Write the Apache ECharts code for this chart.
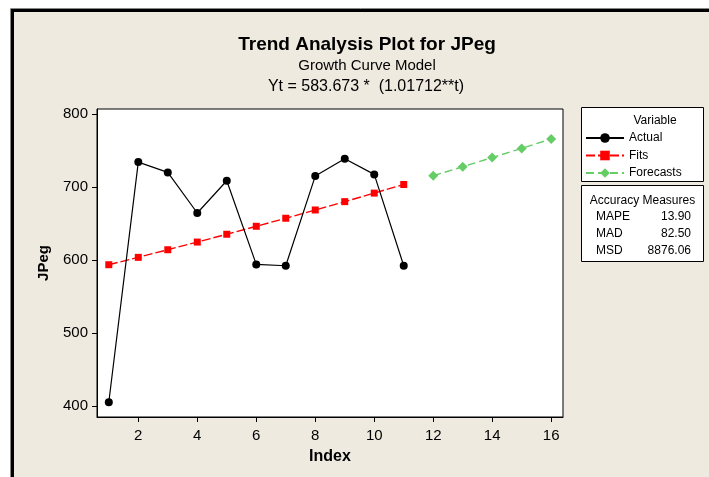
<!DOCTYPE html>
<html>
<head>
<meta charset="utf-8">
<script src="https://cdn.jsdelivr.net/npm/echarts@6/dist/echarts.min.js"></script>
<style>
html,body{margin:0;padding:0;background:#fff;}
#c{width:709px;height:477px;}
</style>
</head>
<body>
<div id="c"></div>
<script>
// ---- data ----
const actualIndex = [1,2,3,4,5,6,7,8,9,10,11];
const actualValues = [405.5,734.1,720.0,664.5,708.6,594.1,592.3,715.0,738.6,717.3,592.3];
const fitsValues = [593.7,603.8,614.2,624.7,635.4,646.3,657.3,668.6,680.0,691.7,703.5];
const forecastIndex = [12,13,14,15,16];
const forecastValues = [715.5,727.8,740.3,752.9,765.8];
const xTicks = [2,4,6,8,10,12,14,16];
const yTicks = [400,500,600,700,800];
const accuracyNames = ['MAPE','MAD','MSD'];
const accuracyValues = ['13.90','82.50','8876.06'];

const FONT = 'Liberation Sans, Arial, sans-serif';
const BG = '#EEEAE0';

const chart = echarts.init(document.getElementById('c'), null, {renderer:'canvas'});

const accTexts = [];
accuracyNames.forEach((n,i)=>{
  accTexts.push({type:'text', left:596, top:211 + i*16.7, z:100,
    style:{text:n, font:'12px '+FONT, fill:'#000'}});
  accTexts.push({type:'text', right:709-691, top:211 + i*16.7, z:100,
    style:{text:accuracyValues[i], font:'12px '+FONT, fill:'#000', textAlign:'right'}});
});

const option = {
  backgroundColor:'#fff',
  animation:false,
  textStyle:{fontFamily:FONT},
  grid:{left:97, top:109, right:146, bottom:60, show:true, backgroundColor:'#fff', borderColor:'#000', borderWidth:1, containLabel:false},
  xAxis:{
    type:'value', min:0.6, max:16.4,
    name:'Index', nameLocation:'middle', nameGap:32,
    nameTextStyle:{fontFamily:FONT, fontSize:16, fontWeight:'bold', color:'#000'},
    axisLine:{show:true, onZero:false, lineStyle:{color:'#000', width:1}},
    axisTick:{show:true, length:5, customValues:xTicks, lineStyle:{color:'#000'}},
    axisLabel:{customValues:xTicks, fontFamily:FONT, fontSize:15, color:'#000', margin:11},
    splitLine:{show:false}
  },
  yAxis:{
    type:'value', min:385.3, max:806.8,
    name:'JPeg', nameLocation:'middle', nameGap:46, nameRotate:90,
    nameTextStyle:{fontFamily:FONT, fontSize:15, fontWeight:'bold', color:'#000'},
    axisLine:{show:true, onZero:false, lineStyle:{color:'#000', width:1}},
    axisTick:{show:true, length:5, customValues:yTicks, lineStyle:{color:'#000'}},
    axisLabel:{customValues:yTicks, fontFamily:FONT, fontSize:15, color:'#000', margin:9},
    splitLine:{show:false}
  },
  legend:{
    orient:'vertical', left:585, top:131, padding:0, itemWidth:38, itemHeight:12, itemGap:3.5,
    textStyle:{fontFamily:FONT, fontSize:12, color:'#000', lineHeight:14},
    data:['Actual','Fits','Forecasts'], z:100
  },
  graphic:[
    {type:'rect', z:-10, silent:true, shape:{x:10.5, y:8.5, width:760, height:520}, style:{fill:'none', stroke:'#888', lineWidth:1}},
    {type:'rect', z:-9, silent:true, shape:{x:12.5, y:10.5, width:760, height:520}, style:{fill:BG, stroke:'#000', lineWidth:3}},
    {type:'text', x:367, y:45, z:100, style:{text:'Trend Analysis Plot for JPeg', font:'bold 19px '+FONT, fill:'#000', textAlign:'center', textVerticalAlign:'middle'}},
    {type:'text', x:367, y:66, z:100, style:{text:'Growth Curve Model', font:'15px '+FONT, fill:'#000', textAlign:'center', textVerticalAlign:'middle'}},
    {type:'text', x:366, y:87, z:100, style:{text:'Yt = 583.673 *  (1.01712**t)', font:'16px '+FONT, fill:'#000', textAlign:'center', textVerticalAlign:'middle'}},
    {type:'rect', z:50, shape:{x:581.5, y:107.5, width:122, height:74}, style:{fill:'#fff', stroke:'#000', lineWidth:1}},
    {type:'text', x:655, y:121, z:100, style:{text:'Variable', font:'12px '+FONT, fill:'#000', textAlign:'center', textVerticalAlign:'middle'}},
    {type:'rect', z:50, shape:{x:581.5, y:185.5, width:122, height:76}, style:{fill:'#fff', stroke:'#000', lineWidth:1}},
    {type:'text', x:642.5, y:201, z:100, style:{text:'Accuracy Measures', font:'12px '+FONT, fill:'#000', textAlign:'center', textVerticalAlign:'middle'}}
  ].concat(accTexts),
  series:[
    {name:'Fits', type:'line', z:3,
     data:actualIndex.map((t,i)=>[t,fitsValues[i]]),
     symbol:'rect', symbolSize:7,
     itemStyle:{color:'#FF0000'},
     lineStyle:{color:'#FF0000', width:1.4, type:[9,3]}},
    {name:'Actual', type:'line', z:4,
     data:actualIndex.map((t,i)=>[t,actualValues[i]]),
     symbol:'circle', symbolSize:8,
     itemStyle:{color:'#000'},
     lineStyle:{color:'#000', width:1.2}},
    {name:'Forecasts', type:'line', z:3,
     data:forecastIndex.map((t,i)=>[t,forecastValues[i]]),
     symbol:'diamond', symbolSize:10,
     itemStyle:{color:'#66CC66'},
     lineStyle:{color:'#66CC66', width:1.4, type:[8,4]}}
  ]
};
chart.setOption(option);
</script>
</body>
</html>
